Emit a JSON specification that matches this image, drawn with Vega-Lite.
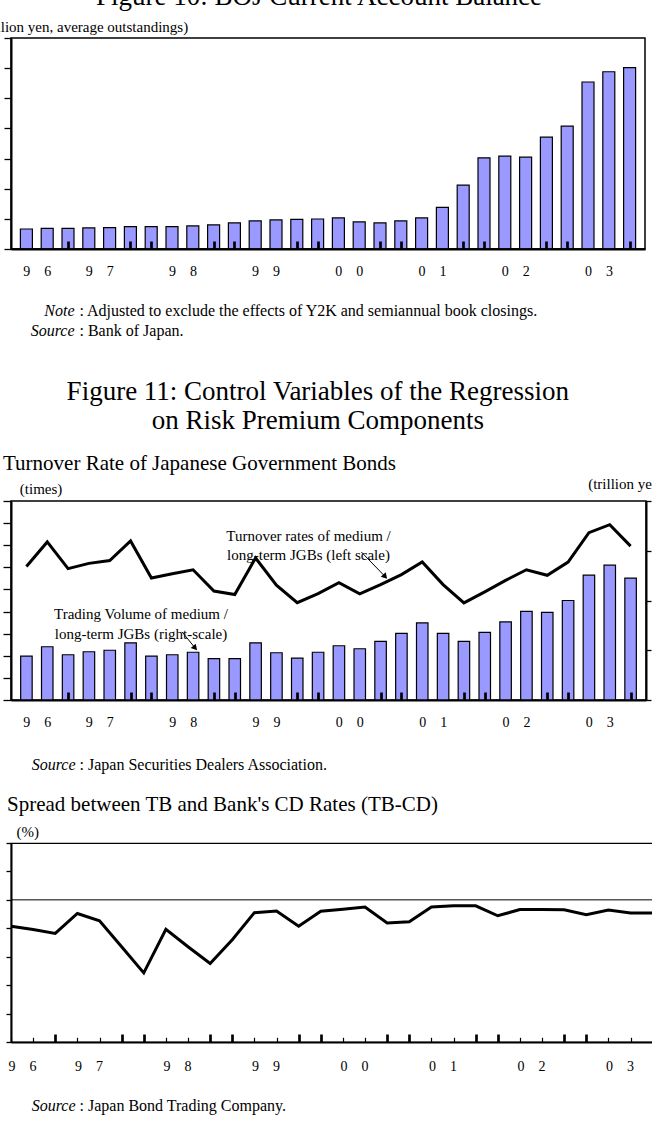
{
  "$schema": "https://vega.github.io/schema/vega-lite/v6.json",
  "background": "white",
  "padding": {"left": -23, "top": -18, "right": -13, "bottom": 0},
  "datasets": {
    "boj": [
      {"q": "1996Q3", "t": 1996.625, "v": 3.32},
      {"q": "1996Q4", "t": 1996.875, "v": 3.43},
      {"q": "1997Q1", "t": 1997.125, "v": 3.43},
      {"q": "1997Q2", "t": 1997.375, "v": 3.49},
      {"q": "1997Q3", "t": 1997.625, "v": 3.54},
      {"q": "1997Q4", "t": 1997.875, "v": 3.71},
      {"q": "1998Q1", "t": 1998.125, "v": 3.71},
      {"q": "1998Q2", "t": 1998.375, "v": 3.71},
      {"q": "1998Q3", "t": 1998.625, "v": 3.82},
      {"q": "1998Q4", "t": 1998.875, "v": 3.99},
      {"q": "1999Q1", "t": 1999.125, "v": 4.32},
      {"q": "1999Q2", "t": 1999.375, "v": 4.65},
      {"q": "1999Q3", "t": 1999.625, "v": 4.82},
      {"q": "1999Q4", "t": 1999.875, "v": 4.93},
      {"q": "2000Q1", "t": 2000.125, "v": 4.98},
      {"q": "2000Q2", "t": 2000.375, "v": 5.15},
      {"q": "2000Q3", "t": 2000.625, "v": 4.49},
      {"q": "2000Q4", "t": 2000.875, "v": 4.32},
      {"q": "2001Q1", "t": 2001.125, "v": 4.65},
      {"q": "2001Q2", "t": 2001.375, "v": 5.15},
      {"q": "2001Q3", "t": 2001.625, "v": 6.92},
      {"q": "2001Q4", "t": 2001.875, "v": 10.58},
      {"q": "2002Q1", "t": 2002.125, "v": 15.12},
      {"q": "2002Q2", "t": 2002.375, "v": 15.39},
      {"q": "2002Q3", "t": 2002.625, "v": 15.23},
      {"q": "2002Q4", "t": 2002.875, "v": 18.55},
      {"q": "2003Q1", "t": 2003.125, "v": 20.38},
      {"q": "2003Q2", "t": 2003.375, "v": 27.7},
      {"q": "2003Q3", "t": 2003.625, "v": 29.4},
      {"q": "2003Q4", "t": 2003.875, "v": 30.07}
    ],
    "jgb": [
      {"q": "1996Q3", "t": 1996.625, "rate": 0.604, "volume": 88},
      {"q": "1996Q4", "t": 1996.875, "rate": 0.715, "volume": 107},
      {"q": "1997Q1", "t": 1997.125, "rate": 0.594, "volume": 91},
      {"q": "1997Q2", "t": 1997.375, "rate": 0.618, "volume": 97},
      {"q": "1997Q3", "t": 1997.625, "rate": 0.631, "volume": 100},
      {"q": "1997Q4", "t": 1997.875, "rate": 0.719, "volume": 115},
      {"q": "1998Q1", "t": 1998.125, "rate": 0.552, "volume": 88},
      {"q": "1998Q2", "t": 1998.375, "rate": 0.571, "volume": 91},
      {"q": "1998Q3", "t": 1998.625, "rate": 0.589, "volume": 96},
      {"q": "1998Q4", "t": 1998.875, "rate": 0.493, "volume": 83},
      {"q": "1999Q1", "t": 1999.125, "rate": 0.477, "volume": 83},
      {"q": "1999Q2", "t": 1999.375, "rate": 0.642, "volume": 115},
      {"q": "1999Q3", "t": 1999.625, "rate": 0.519, "volume": 95},
      {"q": "1999Q4", "t": 1999.875, "rate": 0.440, "volume": 84},
      {"q": "2000Q1", "t": 2000.125, "rate": 0.481, "volume": 96},
      {"q": "2000Q2", "t": 2000.375, "rate": 0.531, "volume": 109},
      {"q": "2000Q3", "t": 2000.625, "rate": 0.480, "volume": 103},
      {"q": "2000Q4", "t": 2000.875, "rate": 0.522, "volume": 118},
      {"q": "2001Q1", "t": 2001.125, "rate": 0.567, "volume": 134},
      {"q": "2001Q2", "t": 2001.375, "rate": 0.624, "volume": 155},
      {"q": "2001Q3", "t": 2001.625, "rate": 0.522, "volume": 134},
      {"q": "2001Q4", "t": 2001.875, "rate": 0.439, "volume": 118},
      {"q": "2002Q1", "t": 2002.125, "rate": 0.489, "volume": 136},
      {"q": "2002Q2", "t": 2002.375, "rate": 0.541, "volume": 157},
      {"q": "2002Q3", "t": 2002.625, "rate": 0.589, "volume": 178},
      {"q": "2002Q4", "t": 2002.875, "rate": 0.564, "volume": 176},
      {"q": "2003Q1", "t": 2003.125, "rate": 0.624, "volume": 200},
      {"q": "2003Q2", "t": 2003.375, "rate": 0.757, "volume": 251},
      {"q": "2003Q3", "t": 2003.625, "rate": 0.793, "volume": 271},
      {"q": "2003Q4", "t": 2003.875, "rate": 0.696, "volume": 245}
    ],
    "jgbNotes": [
      {"t": 2000.01, "rate": 0.743, "label": "Turnover rates of medium /\nlong-term JGBs (left scale)"},
      {"t": 1998.0, "rate": 0.3875, "label": "Trading Volume of medium /\nlong-term JGBs (right-scale)"}
    ],
    "jgbArrows": [
      {"t": 2000.93, "rate": 0.558, "t2": 2000.645, "rate2": 0.669},
      {"t": 1998.65, "rate": 0.235, "t2": 1998.493, "rate2": 0.308}
    ],
    "tbcd": [
      {"q": "1996Q3", "t": 1996.625, "spread": -0.093},
      {"q": "1996Q4", "t": 1996.875, "spread": -0.104},
      {"q": "1997Q1", "t": 1997.125, "spread": -0.118},
      {"q": "1997Q2", "t": 1997.375, "spread": -0.048},
      {"q": "1997Q3", "t": 1997.625, "spread": -0.074},
      {"q": "1997Q4", "t": 1997.875, "spread": -0.165},
      {"q": "1998Q1", "t": 1998.125, "spread": -0.257},
      {"q": "1998Q2", "t": 1998.375, "spread": -0.104},
      {"q": "1998Q3", "t": 1998.625, "spread": -0.165},
      {"q": "1998Q4", "t": 1998.875, "spread": -0.224},
      {"q": "1999Q1", "t": 1999.125, "spread": -0.14},
      {"q": "1999Q2", "t": 1999.375, "spread": -0.045},
      {"q": "1999Q3", "t": 1999.625, "spread": -0.039},
      {"q": "1999Q4", "t": 1999.875, "spread": -0.093},
      {"q": "2000Q1", "t": 2000.125, "spread": -0.040},
      {"q": "2000Q2", "t": 2000.375, "spread": -0.033},
      {"q": "2000Q3", "t": 2000.625, "spread": -0.025},
      {"q": "2000Q4", "t": 2000.875, "spread": -0.081},
      {"q": "2001Q1", "t": 2001.125, "spread": -0.077},
      {"q": "2001Q2", "t": 2001.375, "spread": -0.025},
      {"q": "2001Q3", "t": 2001.625, "spread": -0.021},
      {"q": "2001Q4", "t": 2001.875, "spread": -0.021},
      {"q": "2002Q1", "t": 2002.125, "spread": -0.056},
      {"q": "2002Q2", "t": 2002.375, "spread": -0.034},
      {"q": "2002Q3", "t": 2002.625, "spread": -0.034},
      {"q": "2002Q4", "t": 2002.875, "spread": -0.035},
      {"q": "2003Q1", "t": 2003.125, "spread": -0.052},
      {"q": "2003Q2", "t": 2003.375, "spread": -0.036},
      {"q": "2003Q3", "t": 2003.625, "spread": -0.046},
      {"q": "2003Q4", "t": 2003.875, "spread": -0.046}
    ]
  },
  "spacing": 37,
  "vconcat": [
    {
      "width": 634,
      "height": 211,
      "title": {"text": "Figure 10: BOJ Current Account Balance", "fontSize": 27, "anchor": "middle", "frame": "group", "dx": -9, "offset": -12.5, "baseline": "alphabetic"},
      "layer": [
        {
          "data": {"name": "boj"},
          "mark": {"type": "bar", "width": 12, "fill": "#9999ff", "stroke": "black", "strokeWidth": 1.2},
          "encoding": {
            "x": {
              "field": "t", "type": "quantitative",
              "scale": {"domain": [1996.5, 2004], "nice": false, "zero": false},
              "axis": {
                "orient": "bottom",
                "values": [1996.75, 1997.125, 1997.5, 1997.875, 1998.125, 1998.5, 1998.875, 1999.125, 1999.5, 1999.875, 2000.125, 2000.5, 2000.875, 2001.125, 2001.5, 2001.875, 2002.125, 2002.5, 2002.875, 2003.125, 2003.5, 2003.875],
                "labelExpr": "round(datum.value*8) % 2 == 1 ? '' : substring(toString(floor(datum.value)), 2, 3) + '\u2003' + substring(toString(floor(datum.value)), 3, 4)",
                "labelOverlap": false, "labelFlush": false, "labelBaseline": "alphabetic", "labelPadding": 34.5,
                "tickSize": -8, "tickWidth": 2.7,
                "tickOpacity": {"condition": {"test": "round(datum.value*8) % 2 == 1", "value": 1}, "value": 0},
                "zindex": 1,
                "title": [": Adjusted to exclude the effects of Y2K and semiannual book closings.", ": Bank of Japan."],
                "titleX": 68, "titleY": 66.7, "titleAlign": "left", "titleAnchor": "start", "titleBaseline": "alphabetic",
                "titleFontSize": 16, "titleLineHeight": 20
              }
            },
            "y": {
              "field": "v", "type": "quantitative",
              "scale": {"domain": [0, 35], "nice": false},
              "axis": {
                "values": [0, 5, 10, 15, 20, 25, 30, 35], "labels": false, "tickSize": 7, "tickWidth": 1.3,
                "title": "(trillion yen, average outstandings)", "titleAngle": 0, "titleAlign": "right",
                "titleX": 176.7, "titleY": -6.3, "titleBaseline": "alphabetic", "titleFontSize": 15
              }
            }
          }
        },
        {
          "data": {"values": [{}]},
          "mark": {"type": "rule", "color": "black", "strokeWidth": 1.5},
          "encoding": {
            "y": {
              "datum": 0, "type": "quantitative",
              "scale": {"domain": [0, 35], "nice": false},
              "axis": {
                "orient": "right", "labels": false, "ticks": false, "domain": false,
                "title": ["Note", "Source"], "titleAngle": 0, "titleAlign": "right",
                "titleX": -571, "titleY": 277.7, "titleBaseline": "alphabetic",
                "titleFontStyle": "italic", "titleFontSize": 16, "titleLineHeight": 20
              }
            }
          }
        }
      ],
      "resolve": {"scale": {"y": "independent"}, "axis": {"y": "independent"}}
    },
    {
      "title": {"text": ["Figure 11: Control Variables of the Regression", "on Risk Premium Components"], "fontSize": 27, "lineHeight": 29, "anchor": "middle", "frame": "bounds", "dx": -15.3, "offset": -9, "baseline": "bottom"},
      "spacing": 20,
      "vconcat": [
        {
          "width": 635,
          "height": 199,
          "title": {"text": "Turnover Rate of Japanese Government Bonds", "fontSize": 21, "anchor": "start", "frame": "group", "dx": -8, "offset": -15, "baseline": "alphabetic"},
          "layer": [
            {
              "data": {"name": "jgb"},
              "mark": {"type": "bar", "width": 11.5, "fill": "#9999ff", "stroke": "black", "strokeWidth": 1.2},
              "encoding": {
                "x": {
                  "field": "t", "type": "quantitative",
                  "scale": {"domain": [1996.5, 2004], "nice": false, "zero": false},
                  "axis": {
                    "orient": "bottom", "labels": false, "ticks": false, "domain": false,
                    "title": "Source", "titleX": 64, "titleY": 69.2, "titleAlign": "right", "titleAnchor": "start",
                    "titleBaseline": "alphabetic", "titleFontStyle": "italic", "titleFontSize": 16
                  }
                },
                "y": {
                  "field": "volume", "type": "quantitative",
                  "scale": {"domain": [0, 400], "nice": false},
                  "axis": {
                    "orient": "right", "values": [0, 100, 200, 300, 400], "labels": false, "tickSize": 5, "tickWidth": 1.3,
                    "title": "(trillion yen)", "titleAngle": 0, "titleAlign": "left",
                    "titleX": -58.3, "titleY": -12.7, "titleBaseline": "alphabetic", "titleFontSize": 15
                  }
                }
              }
            },
            {
              "encoding": {
                "x": {
                  "field": "t", "type": "quantitative",
                  "scale": {"domain": [1996.5, 2004], "nice": false, "zero": false},
                  "axis": {
                    "orient": "bottom",
                    "values": [1996.75, 1997.125, 1997.5, 1997.875, 1998.125, 1998.5, 1998.875, 1999.125, 1999.5, 1999.875, 2000.125, 2000.5, 2000.875, 2001.125, 2001.5, 2001.875, 2002.125, 2002.5, 2002.875, 2003.125, 2003.5, 2003.875],
                    "labelExpr": "round(datum.value*8) % 2 == 1 ? '' : substring(toString(floor(datum.value)), 2, 3) + '\u2003' + substring(toString(floor(datum.value)), 3, 4)",
                    "labelOverlap": false, "labelFlush": false, "labelBaseline": "alphabetic", "labelPadding": 34.2,
                    "tickSize": -8, "tickWidth": 2.7,
                    "tickOpacity": {"condition": {"test": "round(datum.value*8) % 2 == 1", "value": 1}, "value": 0},
                    "zindex": 1,
                    "title": ": Japan Securities Dealers Association.",
                    "titleX": 68, "titleY": 69.2, "titleAlign": "left", "titleAnchor": "start", "titleBaseline": "alphabetic",
                    "titleFontSize": 16
                  }
                },
                "y": {
                  "field": "rate", "type": "quantitative",
                  "scale": {"domain": [0, 0.9], "nice": false},
                  "axis": {
                    "orient": "left", "values": [0, 0.1, 0.2, 0.3, 0.4, 0.5, 0.6, 0.7, 0.8, 0.9], "labels": false, "tickSize": 8, "tickWidth": 1.3,
                    "title": "(times)", "titleAngle": 0, "titleAlign": "left",
                    "titleX": 8.3, "titleY": -7.7, "titleBaseline": "alphabetic", "titleFontSize": 15
                  }
                }
              },
              "layer": [
                {"data": {"name": "jgb"}, "mark": {"type": "line", "color": "black", "strokeWidth": 3}},
                {
                  "data": {"name": "jgbNotes"},
                  "mark": {"type": "text", "fontSize": 15, "lineBreak": "\n", "lineHeight": 19.5, "align": "center", "baseline": "middle", "color": "black"},
                  "encoding": {"text": {"field": "label"}}
                },
                {
                  "data": {"name": "jgbArrows"},
                  "mark": {"type": "rule", "color": "black", "strokeWidth": 1},
                  "encoding": {"x2": {"field": "t2"}, "y2": {"field": "rate2"}}
                },
                {
                  "data": {"name": "jgbArrows"},
                  "mark": {"type": "point", "shape": "triangle-up", "filled": true, "color": "black", "opacity": 1, "size": 45, "angle": 138}
                }
              ]
            }
          ],
          "resolve": {"scale": {"y": "independent"}, "axis": {"x": "independent", "y": "independent"}}
        },
        {
          "width": 643,
          "height": 199,
          "view": {"stroke": "black", "strokeWidth": 1.2},
          "title": {"text": "Spread between TB and Bank's CD Rates (TB-CD)", "fontSize": 21, "anchor": "start", "frame": "group", "dx": -4, "offset": -8, "baseline": "alphabetic"},
          "layer": [
            {
              "data": {"name": "tbcd"},
              "mark": {"type": "line", "color": "black", "strokeWidth": 3},
              "encoding": {
                "x": {
                  "field": "t", "type": "quantitative",
                  "scale": {"domain": [1996.625, 2003.89], "nice": false, "zero": false},
                  "axis": {
                    "orient": "bottom",
                    "values": [1996.625, 1996.75, 1996.875, 1997.125, 1997.375, 1997.5, 1997.625, 1997.875, 1998.125, 1998.375, 1998.5, 1998.625, 1998.875, 1999.125, 1999.375, 1999.5, 1999.625, 1999.875, 2000.125, 2000.375, 2000.5, 2000.625, 2000.875, 2001.125, 2001.375, 2001.5, 2001.625, 2001.875, 2002.125, 2002.375, 2002.5, 2002.625, 2002.875, 2003.125, 2003.375, 2003.5, 2003.625, 2003.875],
                    "labelExpr": "round(datum.value*8) % 2 == 1 ? '' : substring(toString(floor(datum.value)), 2, 3) + '\u2003' + substring(toString(floor(datum.value)), 3, 4)",
                    "labelOverlap": false, "labelFlush": false, "labelBaseline": "alphabetic", "labelPadding": 36,
                    "tickSize": -8,
                    "tickDash": {"condition": {"test": "datum.value > 1997 && abs(datum.value - round(datum.value)) < 0.2", "value": [8, 20]}, "value": [4.7, 20]},
                    "tickWidth": {"condition": {"test": "datum.value > 1997 && abs(datum.value - round(datum.value)) < 0.2", "value": 2.7}, "value": 1.2},
                    "tickOpacity": {"condition": {"test": "round(datum.value*8) % 2 == 1", "value": 1}, "value": 0},
                    "zindex": 1,
                    "title": ": Japan Bond Trading Company.",
                    "titleX": 68, "titleY": 68.3, "titleAlign": "left", "titleAnchor": "start", "titleBaseline": "alphabetic",
                    "titleFontSize": 16
                  }
                },
                "y": {
                  "field": "spread", "type": "quantitative",
                  "scale": {"domain": [-0.5, 0.2], "nice": false, "zero": false},
                  "axis": {
                    "values": [-0.5, -0.4, -0.3, -0.2, -0.1, 0, 0.1, 0.2], "labels": false, "tickSize": 5, "tickWidth": 1.3,
                    "title": "(%)", "titleAngle": 0, "titleAlign": "left",
                    "titleX": 5, "titleY": -7, "titleBaseline": "alphabetic", "titleFontSize": 15
                  }
                }
              }
            },
            {
              "data": {"values": [{}]},
              "mark": {"type": "rule", "color": "black", "strokeWidth": 1},
              "encoding": {
                "y": {
                  "datum": 0, "type": "quantitative",
                  "scale": {"domain": [-0.5, 0.2], "nice": false, "zero": false},
                  "axis": {
                    "orient": "right", "labels": false, "ticks": false, "domain": false,
                    "title": "Source", "titleAngle": 0, "titleAlign": "right",
                    "titleX": -579, "titleY": 267.6, "titleBaseline": "alphabetic",
                    "titleFontStyle": "italic", "titleFontSize": 16
                  }
                }
              }
            }
          ],
          "resolve": {"scale": {"y": "independent"}, "axis": {"y": "independent"}}
        }
      ]
    }
  ],
  "config": {
    "font": "Liberation Serif",
    "view": {"stroke": "black", "strokeWidth": 1.5},
    "axis": {
      "grid": false, "domainColor": "black", "domainWidth": 2, "tickColor": "black",
      "labelColor": "black", "labelFont": "Liberation Serif", "labelFontSize": 14,
      "titleFont": "Liberation Serif", "titleFontWeight": "normal", "titleColor": "black"
    },
    "title": {"font": "Liberation Serif", "fontWeight": "normal", "color": "black"},
    "text": {"font": "Liberation Serif", "color": "black"}
  }
}
